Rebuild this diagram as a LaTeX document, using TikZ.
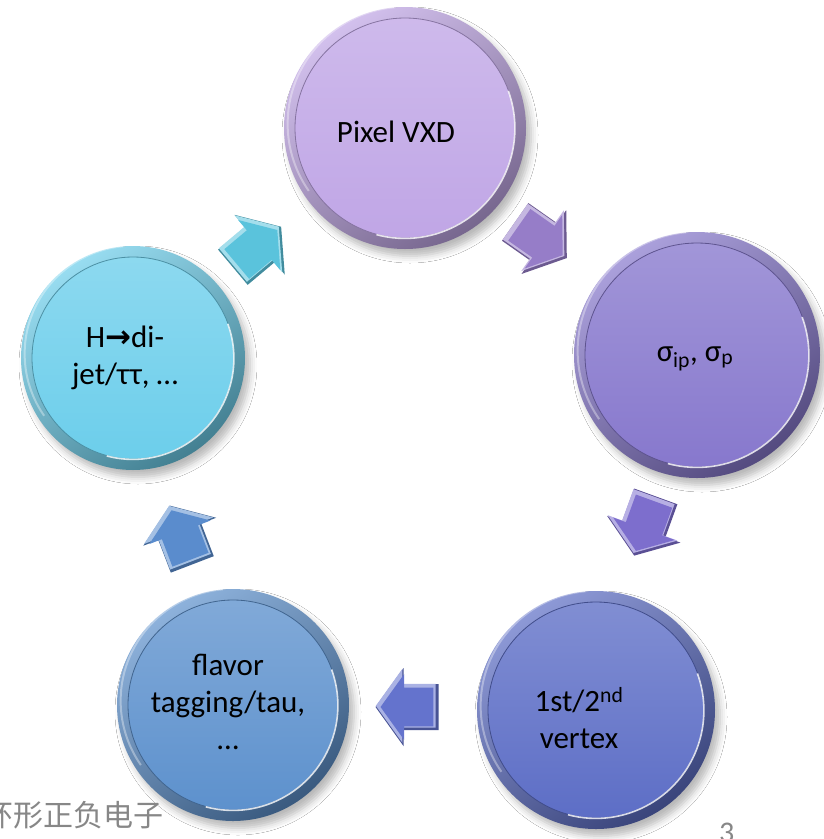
\documentclass[tikz,border=0pt]{standalone}
\usepackage{fontspec}
\setmainfont{Carlito}
\newfontfamily\cjkfont{Noto Sans CJK SC}
\newfontfamily\djvfont{DejaVu Sans}
\usetikzlibrary{shadows.blur}

\definecolor{cA}{RGB}{192,166,230}
\definecolor{cB}{RGB}{135,120,205}
\definecolor{cC}{RGB}{93,110,198}
\definecolor{cD}{RGB}{93,145,205}
\definecolor{cE}{RGB}{108,206,235}
\definecolor{aA}{RGB}{150,125,200}
\definecolor{aB}{RGB}{125,110,205}
\definecolor{aC}{RGB}{100,115,205}
\definecolor{aD}{RGB}{90,140,205}
\definecolor{aE}{RGB}{90,195,220}
\definecolor{footgray}{RGB}{135,135,135}

\tikzset{
  outerdisc/.style 2 args={circle, inner sep=0pt, minimum size={#1},
    top color=#2!70!white, bottom color=#2!62!black, shading angle=35,
    blur shadow={shadow xshift=5pt, shadow yshift=-7pt, shadow opacity=28, shadow blur radius=7pt}},
  innerdisc/.style 2 args={circle, inner sep=0pt, minimum size={#1},
    top color=#2!78!white, bottom color=#2, draw=#2!70!black, line width=0.8pt},
  gloss/.style={white, opacity=0.8, line width=1.6pt},
  softgloss/.style={white, opacity=0.35, line width=2pt},
  blockarrow/.pic={\path[pic actions] (-31.5,-23) -- (3.5,-23) -- (3.5,-39) -- (31.5,0)
      -- (3.5,39) -- (3.5,23) -- (-31.5,23) -- cycle;},
  bodytext/.style={font=\fontsize{31}{37}\selectfont, align=center, inner sep=0pt, text=black},
  foottext/.style={font=\fontsize{30}{36}\selectfont, inner sep=0pt, text=footgray}
}

\newcommand\ballpic[5]{% name, x, y, radius, colour
  \node[outerdisc={2*#4pt}{#5}] (#1) at (#2,#3) {};
  \node[innerdisc={2*#4pt-22pt}{#5}] (#1in) at (#2,#3) {};
  \draw[gloss] (#1in.-105) arc[start angle=-105, end angle=20, radius={#4pt-11pt}];
  \draw[softgloss] (#1.95) arc[start angle=95, end angle=215, radius={#4pt-4pt}];
}
\newcommand\arrowpic[5]{% name, x, y, angle, colour
  \pic[rotate=#4, fill=#5!72!black,
       blur shadow={shadow xshift=4pt, shadow yshift=-5pt, shadow opacity=25, shadow blur radius=4pt}] (#1) at (#2,#3) {blockarrow};
  \pic[rotate=#4, scale=0.95, fill=#5!55!white] (#1l) at ([shift={(-1.2,-1.2)}]#2,#3) {blockarrow};
  \pic[rotate=#4, scale=0.84, fill=#5] (#1i) at (#2,#3) {blockarrow};
}

\begin{document}
\begin{tikzpicture}[x=1pt,y=-1pt]
\fill[white] (0,0) rectangle (824,839);
\useasboundingbox (0,0) rectangle (824,839);

% circles
\ballpic{pix}{405}{128}{121}{cA}
\ballpic{sig}{697}{355}{123}{cB}
\ballpic{vtx}{596}{710}{119}{cC}
\ballpic{flv}{233}{705}{116}{cD}
\ballpic{hig}{133}{358}{112}{cE}

% arrows
\arrowpic{a12}{541}{240}{-35}{aA}
\arrowpic{a23}{645}{526}{-110}{aB}
\arrowpic{a34}{407}{707}{180}{aC}
\arrowpic{a45}{181}{535}{111}{aD}
\arrowpic{a51}{257}{247}{40}{aE}

% texts
\node[bodytext, anchor=base] (pixt) at (396,142) {Pixel VXD};
\node[bodytext, anchor=base] (sigt) at (695,361) {σ\textsubscript{ip}, σ\textsubscript{p}};
\node[bodytext] (vtxt) at (579,718) {1st/2\textsuperscript{nd}\\vertex};
\node[bodytext] (flvt) at (228,702) {flavor\\tagging/tau,\\…};
\node[bodytext] (higt) at (125,358) {H{\djvfont\bfseries →}di-\\jet/ττ, …};

% footer
\node[foottext, anchor=base west] (foot) at (-17,826) {\cjkfont 环形正负电子};
\node[foottext, anchor=base west] (pnum) at (719,842) {3};
\end{tikzpicture}
\end{document}
